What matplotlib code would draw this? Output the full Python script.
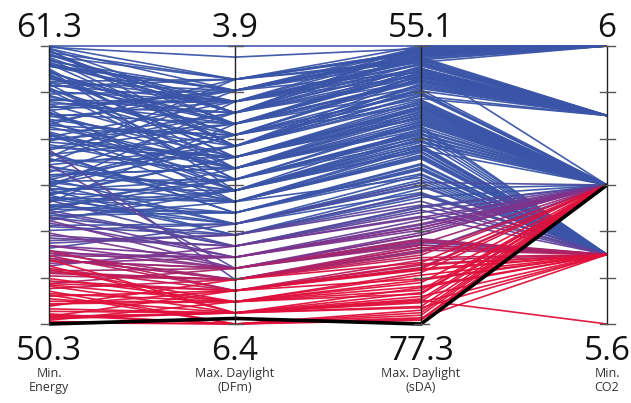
import numpy as np
import matplotlib
matplotlib.use("Agg")
import matplotlib.pyplot as plt
from matplotlib.colors import LinearSegmentedColormap

# ---- axes definitions ----
axis_names = ["Min.\nEnergy", "Max. Daylight\n(DFm)", "Max. Daylight\n(sDA)", "Min.\nCO2"]
axis_top = [61.3, 3.9, 55.1, 6.0]
axis_bottom = [50.3, 6.4, 77.3, 5.6]
top_labels = ["61.3", "3.9", "55.1", "6"]
bottom_labels = ["50.3", "6.4", "77.3", "5.6"]

# ---- blue group (high-energy solutions) ----
energy_blue = [61.3, 61.2, 61.1, 60.9, 60.8, 60.6, 60.5, 60.3, 60.2, 60.0,
               61.25, 61.0, 60.7, 60.4, 60.1, 59.9, 59.8, 59.6, 59.5, 59.3,
               59.2, 59.0, 58.9, 58.7, 58.6, 58.4, 58.3, 58.1, 58.0, 57.8,
               57.7, 57.5, 57.4, 57.2, 57.1, 56.9, 56.8, 56.6, 56.5, 56.3,
               56.2, 56.0, 55.9, 55.7, 55.6, 55.4, 55.3, 55.1, 55.0, 54.8,
               60.85, 60.35, 59.75, 59.15, 58.8, 58.2, 57.65, 57.05, 56.7, 56.1,
               61.15, 60.55, 60.05, 59.55, 58.85, 58.25, 57.55, 56.85, 55.85, 55.25,
               54.6, 54.4, 54.2, 54.9, 55.5, 56.05, 57.85, 58.55, 59.65, 60.65]
dfm_blue = [3.9, 4.3, 4.6, 4.2, 4.8, 4.5, 4.4, 4.7, 4.9, 4.4,
            4.0, 4.5, 4.3, 5.0, 4.6, 4.2, 5.1, 4.8, 4.4, 4.7,
            4.5, 4.9, 4.5, 5.2, 4.6, 4.8, 4.3, 5.0, 4.7, 5.3,
            4.4, 4.9, 5.1, 4.6, 5.4, 4.2, 5.0, 4.8, 5.2, 4.5,
            5.0, 4.7, 5.3, 4.4, 5.1, 4.9, 5.4, 4.6, 5.2, 5.0,
            4.6, 5.2, 4.4, 4.4, 5.3, 4.2, 4.9, 5.4, 4.3, 4.8,
            4.8, 4.3, 4.7, 5.1, 4.3, 5.0, 4.5, 5.3, 4.7, 5.5,
            5.4, 5.2, 5.5, 5.1, 5.3, 5.5, 5.2, 4.9, 5.0, 4.5]
sda_blue = [55.1, 55.4, 57.0, 56.2, 58.1, 56.8, 55.6, 59.3, 60.1, 57.5,
            55.3, 56.0, 55.9, 61.2, 57.8, 56.4, 62.0, 58.6, 57.1, 59.8,
            56.5, 60.4, 55.8, 63.0, 58.3, 59.6, 57.2, 61.5, 58.9, 63.8,
            56.9, 60.8, 62.4, 57.9, 64.5, 55.7, 61.0, 59.1, 63.2, 57.6,
            61.8, 58.4, 64.1, 56.3, 62.7, 60.2, 65.0, 58.0, 63.5, 61.4,
            58.7, 62.6, 55.2, 56.6, 64.0, 55.5, 60.6, 65.3, 56.1, 59.4,
            59.0, 55.2, 57.4, 62.2, 55.9, 60.0, 57.3, 63.6, 58.8, 66.0,
            64.8, 63.0, 66.3, 62.1, 65.6, 66.8, 63.4, 60.9, 61.6, 57.9]
co2_blue = [6.0, 6.0, 5.9, 6.0, 5.9, 5.8, 6.0, 5.9, 5.8, 5.9,
            6.0, 5.9, 6.0, 5.8, 5.9, 6.0, 5.7, 5.8, 5.9, 5.8,
            5.9, 5.8, 6.0, 5.7, 5.9, 5.8, 5.9, 5.7, 5.8, 5.7,
            5.9, 5.8, 5.8, 5.9, 5.7, 6.0, 5.8, 5.9, 5.7, 5.9,
            5.8, 5.9, 5.7, 5.9, 5.8, 5.8, 5.7, 5.9, 5.7, 5.8,
            5.9, 5.7, 6.0, 5.9, 5.7, 6.0, 5.8, 5.7, 5.9, 5.8,
            5.8, 6.0, 5.9, 5.8, 6.0, 5.8, 5.9, 5.7, 5.8, 5.7,
            5.7, 5.8, 5.7, 5.8, 5.7, 5.7, 5.8, 5.8, 5.8, 5.9]

energy_blue2 = [61.05, 60.75, 60.25, 59.85, 59.35, 58.75, 58.15, 57.75, 57.25, 56.75,
                61.2, 60.6, 59.7, 59.1, 58.5, 57.9, 57.3, 56.4, 55.8, 55.3,
                60.95, 60.15, 59.4, 58.65, 57.6, 56.55, 55.95, 55.45, 54.95, 54.7,
                61.3, 60.5, 59.85, 59.0, 58.35, 57.0, 56.2, 55.65, 55.15, 54.5]
dfm_blue2 = [4.2, 4.4, 4.6, 4.3, 4.8, 4.3, 4.7, 5.0, 4.5, 4.9,
             4.5, 4.8, 4.2, 4.6, 4.4, 5.1, 4.9, 5.2, 4.8, 5.3,
             4.5, 4.9, 4.3, 5.0, 4.6, 5.3, 5.1, 4.9, 5.4, 5.2,
             4.2, 4.3, 4.6, 4.4, 5.2, 4.7, 5.0, 5.2, 5.1, 5.3]
sda_blue2 = [55.5, 56.1, 57.3, 55.8, 58.5, 56.0, 57.7, 60.5, 56.9, 59.9,
             55.2, 57.6, 55.6, 56.7, 56.2, 61.1, 59.5, 62.3, 58.2, 63.1,
             55.3, 59.7, 56.4, 60.3, 57.0, 63.9, 61.9, 60.0, 64.6, 62.8,
             55.1, 55.7, 57.2, 56.5, 62.5, 57.5, 60.7, 61.7, 61.3, 63.3]
co2_blue2 = [6.0, 6.0, 5.9, 6.0, 5.9, 6.0, 5.9, 5.8, 5.9, 5.8,
             6.0, 5.9, 6.0, 5.9, 5.9, 5.8, 5.8, 5.7, 5.9, 5.7,
             6.0, 5.8, 5.9, 5.8, 5.9, 5.7, 5.8, 5.8, 5.7, 5.8,
             6.0, 6.0, 5.9, 5.9, 5.8, 5.9, 5.8, 5.7, 5.8, 5.7]

# ---- purple group (transition) ----
energy_mid = [55.4, 55.0, 54.7, 54.5, 54.3, 54.0, 53.8, 53.6, 53.4, 53.2,
              55.8, 55.2, 54.85, 54.55, 54.15, 53.9, 53.7, 53.3, 53.0, 52.8,
              57.2, 56.6, 55.6, 54.8, 54.4, 53.5, 53.1, 52.9, 52.6, 52.4]
dfm_mid = [5.6, 5.5, 5.7, 5.6, 5.8, 5.5, 5.7, 5.6, 5.8, 5.9,
           5.5, 5.7, 5.4, 5.8, 5.6, 5.9, 5.7, 5.5, 5.8, 5.9,
           6.0, 5.9, 5.6, 5.7, 5.9, 5.6, 5.8, 6.0, 5.7, 5.9]
sda_mid = [66.5, 65.4, 67.9, 67.0, 69.0, 66.2, 68.4, 67.5, 69.8, 70.5,
           65.8, 68.0, 64.9, 69.4, 66.9, 70.2, 68.7, 66.0, 69.6, 71.0,
           71.5, 70.8, 67.2, 68.2, 70.0, 67.8, 69.3, 71.2, 68.8, 70.7]
co2_mid = [5.8, 5.7, 5.8, 5.7, 5.8, 5.7, 5.8, 5.7, 5.8, 5.7,
           5.7, 5.8, 5.7, 5.8, 5.7, 5.8, 5.7, 5.8, 5.8, 5.7,
           5.8, 5.7, 5.8, 5.7, 5.8, 5.7, 5.8, 5.7, 5.8, 5.7]

# ---- red group (low-energy solutions) ----
energy_red = [53.4, 53.1, 52.8, 52.5, 52.3, 52.1, 51.9, 51.7, 51.5, 51.3,
              51.1, 50.9, 50.7, 50.5, 50.4, 53.0, 52.7, 52.2, 51.8, 51.4,
              52.9, 52.45, 52.0, 51.6, 51.2, 50.8, 50.6, 51.0, 51.9, 52.6,
              53.2, 52.85, 52.35, 51.85, 51.45, 51.05, 50.55, 50.45, 50.35, 50.65,
              50.6]
dfm_red = [5.9, 6.0, 5.9, 6.1, 6.0, 6.2, 6.1, 6.0, 6.2, 6.3,
           6.2, 6.3, 6.4, 6.3, 6.4, 6.1, 5.8, 6.0, 6.3, 6.1,
           6.0, 6.2, 6.1, 6.4, 6.2, 6.3, 6.1, 6.0, 5.9, 6.3,
           6.1, 6.3, 6.0, 6.2, 6.4, 6.1, 6.3, 6.2, 6.4, 6.4,
           6.3]
sda_red = [70.2, 71.4, 70.9, 72.5, 71.8, 73.4, 72.9, 72.0, 74.0, 75.1,
           74.6, 75.6, 76.4, 76.0, 76.9, 72.2, 69.6, 71.2, 75.3, 73.0,
           71.0, 73.2, 72.6, 76.2, 74.3, 75.9, 73.7, 72.4, 70.6, 74.8,
           72.8, 74.4, 71.6, 73.8, 76.6, 72.9, 75.5, 74.9, 76.8, 77.0,
           75.4]
co2_red = [5.8, 5.7, 5.8, 5.7, 5.8, 5.7, 5.8, 5.7, 5.8, 5.7,
           5.8, 5.7, 5.8, 5.7, 5.8, 5.7, 5.8, 5.7, 5.8, 5.7,
           5.7, 5.8, 5.7, 5.8, 5.7, 5.8, 5.7, 5.8, 5.7, 5.8,
           5.8, 5.7, 5.8, 5.7, 5.8, 5.7, 5.8, 5.8, 5.7, 5.8,
           5.6]

# ---- highlighted solution ----
best = [50.3, 6.35, 77.3, 5.8]

# ---------------------------------------------------------------
energy = np.array(energy_blue + energy_blue2 + energy_mid + energy_red)
dfm = np.array(dfm_blue + dfm_blue2 + dfm_mid + dfm_red)
sda = np.array(sda_blue + sda_blue2 + sda_mid + sda_red)
co2 = np.array(co2_blue + co2_blue2 + co2_mid + co2_red)
data = np.column_stack([energy, dfm, sda, co2])

top = np.array(axis_top)
bot = np.array(axis_bottom)

def norm(vals):
    return (np.asarray(vals) - bot) / (top - bot)

ndata = norm(data)
nbest = norm(best)

cmap = LinearSegmentedColormap.from_list(
    "br", [(0.0, "#e0103c"), (0.14, "#e0103c"), (0.28, "#7a3590"),
           (0.42, "#3a55a8"), (1.0, "#3a55a8")])

fig = plt.figure(figsize=(6.31, 4.03), dpi=100)
ax = fig.add_axes([49 / 631, 1 - 324 / 403, (607 - 49) / 631, 278 / 403])
ax.set_xlim(0, 3)
ax.set_ylim(0, 1)
ax.axis("off")

xs = np.arange(4)
score = ndata[:, :3].mean(axis=1)
order = np.argsort(-score)
for i in order:
    ax.plot(xs, ndata[i], color=cmap(score[i]), lw=1.2, alpha=0.95,
            solid_capstyle="butt", zorder=2, clip_on=False)

ax.plot(xs, nbest, color="black", lw=2.6, zorder=4, clip_on=False,
        solid_capstyle="butt")

font = "Open Sans"
for k in range(4):
    ax.plot([k, k], [0, 1], color="#222222", lw=1.0, zorder=5, clip_on=False)
    for t in np.linspace(0, 1, 7):
        if k == 0:
            ax.plot([k - 0.045, k], [t, t], color="#555555", lw=1.0,
                    zorder=5, clip_on=False)
        else:
            ax.plot([k - 0.035, k + 0.045], [t, t], color="#555555", lw=1.0,
                    zorder=5, clip_on=False)
    ax.text(k, 1.032, top_labels[k], ha="center", va="baseline", fontsize=24,
            family=font, color="#111111")
    ax.text(k, -0.13, bottom_labels[k], ha="center", va="baseline",
            fontsize=24, family=font, color="#111111")
    ax.text(k, -0.155, axis_names[k], ha="center", va="top", fontsize=9,
            family=font, color="#333333", linespacing=1.1)

fig.savefig("out.png", dpi=100)
